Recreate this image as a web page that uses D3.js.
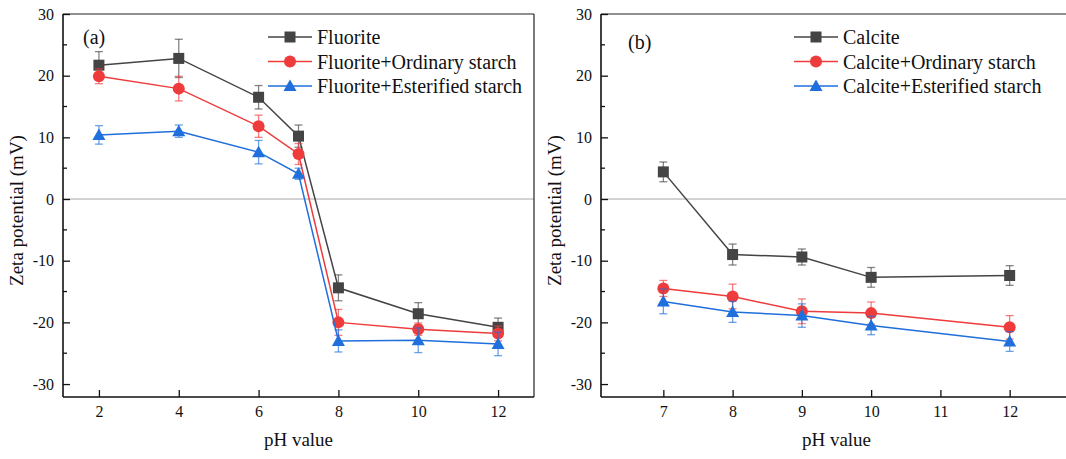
<!DOCTYPE html>
<html>
<head>
<meta charset="utf-8">
<script src="https://cdn.jsdelivr.net/npm/d3@7/dist/d3.min.js"></script>
</head>
<body style="margin:0">
<svg id="c" width="1066" height="459" font-family="Liberation Serif"></svg>
<script>
// ---- data ----
const phA = [2, 4, 6, 7, 8, 10, 12];
const fluorite = [21.7, 22.8, 16.5, 10.2, -14.4, -18.6, -20.8];
const fluoriteErr = [2.2, 3.1, 1.9, 1.8, 2.1, 1.8, 1.5];
const fluoriteOrd = [19.9, 17.9, 11.8, 7.3, -20.0, -21.1, -21.8];
const fluoriteOrdErr = [1.2, 2.0, 1.8, 1.7, 2.1, 1.0, 1.2];
const fluoriteEst = [10.4, 11.0, 7.6, 4.1, -23.0, -22.9, -23.5];
const fluoriteEstErr = [1.5, 1.0, 1.9, 0.9, 1.8, 2.0, 1.9];

const phB = [7, 8, 9, 10, 12];
const calcite = [4.4, -9.0, -9.4, -12.7, -12.4];
const calciteErr = [1.6, 1.7, 1.3, 1.6, 1.6];
const calciteOrd = [-14.5, -15.8, -18.2, -18.5, -20.8];
const calciteOrdErr = [1.3, 2.0, 2.0, 1.8, 1.9];
const calciteEst = [-16.6, -18.3, -18.9, -20.5, -23.1];
const calciteEstErr = [2.0, 1.7, 1.9, 1.5, 1.6];

const xTicksA = [2, 4, 6, 8, 10, 12];
const xTicksB = [7, 8, 9, 10, 11, 12];
const yTicks = [-30, -20, -10, 0, 10, 20, 30];
const yMinor = [-25, -15, -5, 5, 15, 25];

const namesA = ["Fluorite", "Fluorite+Ordinary starch", "Fluorite+Esterified starch"];
const namesB = ["Calcite", "Calcite+Ordinary starch", "Calcite+Esterified starch"];
const colors = ["#444444", "#ee3b3b", "#1f6fdc"];
const shapes = ["square", "circle", "triangle"];

const FONT = "Liberation Serif";
const svg = d3.select("#c");

function marker(g, shape, color, x, y) {
  if (shape === "square") {
    g.append("rect").attr("x", x - 5.5).attr("y", y - 5.5).attr("width", 11).attr("height", 11).attr("fill", color);
  } else if (shape === "circle") {
    g.append("circle").attr("cx", x).attr("cy", y).attr("r", 6).attr("fill", color);
  } else {
    g.append("path").attr("d", `M${x},${y-6.5}L${x+6.5},${y+5}L${x-6.5},${y+5}Z`).attr("fill", color);
  }
}

function txt(g, x, y, s, size, anchor) {
  return g.append("text").attr("x", x).attr("y", y).attr("font-family", FONT).attr("font-size", size)
    .attr("fill", "#111").attr("text-anchor", anchor || "start").text(s);
}

function panel(opts) {
  const {left, right, top, bottom, xDomain, xTicks, xs, series, errs, names, label, legendX} = opts;
  const x = d3.scaleLinear().domain(xDomain).range([left, right]);
  const y = d3.scaleLinear().domain([-32.1, 30]).range([bottom, top]);
  const g = svg.append("g");

  g.append("line").attr("x1", left).attr("x2", right).attr("y1", y(0)).attr("y2", y(0))
    .attr("stroke", "#a6a6a6").attr("stroke-width", 1);
  g.append("line").attr("x1", left).attr("x2", right).attr("y1", top).attr("y2", top).attr("stroke", "#222").attr("stroke-width", 1.2);
  g.append("line").attr("x1", right).attr("x2", right).attr("y1", top).attr("y2", bottom).attr("stroke", "#222").attr("stroke-width", 1.2);

  const ya = d3.axisLeft(y).tickValues(yTicks).tickSizeInner(-7).tickSizeOuter(0).tickPadding(9).tickFormat(d => String(d));
  const yg = g.append("g").attr("transform", `translate(${left},0)`).call(ya);
  yg.attr("font-family", FONT).attr("font-size", 16);
  yg.select(".domain").remove();
  yg.selectAll(".tick line").attr("stroke", "#111").attr("stroke-width", 1.3);
  yg.selectAll(".tick text").attr("fill", "#111");
  yg.selectAll(".minor").data(yMinor).enter().append("line")
    .attr("x1", 0).attr("x2", 4).attr("y1", d => y(d)).attr("y2", d => y(d)).attr("stroke", "#111").attr("stroke-width", 1.3);
  g.append("line").attr("x1", left).attr("x2", left).attr("y1", top).attr("y2", bottom).attr("stroke", "#111").attr("stroke-width", 1.6);

  const xa = d3.axisBottom(x).tickValues(xTicks).tickSizeInner(-7).tickSizeOuter(0).tickPadding(9).tickFormat(d => String(d));
  const xg = g.append("g").attr("transform", `translate(0,${bottom})`).call(xa);
  xg.attr("font-family", FONT).attr("font-size", 16);
  xg.select(".domain").remove();
  xg.selectAll(".tick line").attr("stroke", "#111").attr("stroke-width", 1.3);
  xg.selectAll(".tick text").attr("fill", "#111");
  g.append("line").attr("x1", left).attr("x2", right).attr("y1", bottom).attr("y2", bottom).attr("stroke", "#111").attr("stroke-width", 1.6);

  txt(g, (left + right) / 2, 446, "pH value", 19, "middle");
  txt(g, 0, 0, "Zeta potential (mV)", 19, "middle")
    .attr("transform", `translate(${left - 40},${(top + bottom) / 2 + 5}) rotate(-90)`);
  txt(g, label.x, label.y, label.t, 20);

  series.forEach((vals, i) => {
    const sg = g.append("g");
    const c = colors[i];
    const line = d3.line().x((d, j) => x(xs[j])).y(d => y(d));
    sg.append("path").datum(vals).attr("d", line).attr("fill", "none").attr("stroke", c).attr("stroke-width", 1.5);
    vals.forEach((v, j) => {
      const e = errs[i][j], px = x(xs[j]);
      const eg = sg.append("g").attr("stroke", c).attr("stroke-opacity", 0.65).attr("stroke-width", 1.3);
      eg.append("line").attr("x1", px).attr("x2", px).attr("y1", y(v + e)).attr("y2", y(v - e));
      eg.append("line").attr("x1", px - 4).attr("x2", px + 4).attr("y1", y(v + e)).attr("y2", y(v + e));
      eg.append("line").attr("x1", px - 4).attr("x2", px + 4).attr("y1", y(v - e)).attr("y2", y(v - e));
    });
    vals.forEach((v, j) => marker(sg, shapes[i], c, x(xs[j]), y(v)));
  });

  names.forEach((n, i) => {
    const ly = 37 + i * 24.5;
    const lg = g.append("g");
    lg.append("line").attr("x1", legendX).attr("x2", legendX + 44).attr("y1", ly).attr("y2", ly).attr("stroke", colors[i]).attr("stroke-width", 1.5);
    marker(lg, shapes[i], colors[i], legendX + 22, ly);
    txt(lg, legendX + 49, ly + 7, n, 20);
  });
}

panel({left: 63, right: 534, top: 14, bottom: 397, xDomain: [1.1, 12.9], xTicks: xTicksA, xs: phA,
  series: [fluorite, fluoriteOrd, fluoriteEst], errs: [fluoriteErr, fluoriteOrdErr, fluoriteEstErr],
  names: namesA, label: {x: 83, y: 44, t: "(a)"}, legendX: 268});
panel({left: 601, right: 1072, top: 14, bottom: 397, xDomain: [6.1, 12.9], xTicks: xTicksB, xs: phB,
  series: [calcite, calciteOrd, calciteEst], errs: [calciteErr, calciteOrdErr, calciteEstErr],
  names: namesB, label: {x: 628, y: 49, t: "(b)"}, legendX: 794});
</script>
</body>
</html>
